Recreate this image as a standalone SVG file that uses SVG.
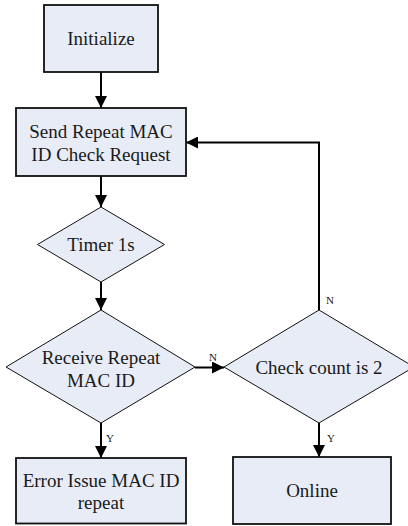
<svg xmlns="http://www.w3.org/2000/svg" width="408" height="526" viewBox="0 0 408 526">
<style>
.box{fill:#e7ecf7;stroke:#111;stroke-width:1.8}
.dia{fill:#e7ecf7;stroke:#111;stroke-width:1}
.t{font-family:"Liberation Serif","Times New Roman",serif;font-size:19px;fill:#1a1a1a;text-anchor:middle}
.lbl{font-family:"Liberation Serif","Times New Roman",serif;font-size:11px;fill:#1a1a1a}
.con{fill:none;stroke:#000;stroke-width:2}
</style>
<defs>
<marker id="ah" viewBox="0 0 12 12" refX="12" refY="6" markerWidth="12" markerHeight="12" markerUnits="userSpaceOnUse" orient="auto">
<path d="M0,0 L12,6 L0,12 Z" fill="#000"/>
</marker>
</defs>
<rect width="408" height="526" fill="#fff"/>
<g id="connectors">
<line class="con" x1="101" y1="72" x2="101" y2="108" marker-end="url(#ah)"/>
<line class="con" x1="101" y1="176" x2="101" y2="207" marker-end="url(#ah)"/>
<line class="con" x1="101" y1="282" x2="101" y2="310" marker-end="url(#ah)"/>
<line class="con" x1="195" y1="367.5" x2="224" y2="367.5" marker-end="url(#ah)"/>
<line class="con" x1="101" y1="423" x2="101" y2="458" marker-end="url(#ah)"/>
<line class="con" x1="319" y1="423" x2="319" y2="457" marker-end="url(#ah)"/>
<polyline class="con" points="319,310 319,142.5 186,142.5" marker-end="url(#ah)"/>
<text class="lbl" x="209" y="361">N</text>
<text class="lbl" x="326" y="304">N</text>
<text class="lbl" x="106" y="442">Y</text>
<text class="lbl" x="327" y="442">Y</text>
</g>
<g id="initialize">
<rect class="box" x="44" y="5" width="114" height="67"/>
<text class="t" x="101" y="45">Initialize</text>
</g>
<g id="send">
<rect class="box" x="16" y="108" width="170" height="68"/>
<text class="t" x="101" y="137.5">Send Repeat MAC</text>
<text class="t" x="101" y="161">ID Check Request</text>
</g>
<g id="timer">
<polygon class="dia" points="101,207 164.5,244.5 101,282 37.5,244.5"/>
<text class="t" x="101" y="251">Timer 1s</text>
</g>
<g id="receive">
<polygon class="dia" points="101,310 195,367 101,423 6,367"/>
<text class="t" x="101" y="363.5">Receive Repeat</text>
<text class="t" x="101" y="387">MAC ID</text>
</g>
<g id="check">
<polygon class="dia" points="319,310 414,367 319,423 224,367"/>
<text class="t" x="319" y="374">Check count is 2</text>
</g>
<g id="error">
<rect class="box" x="16" y="458" width="170" height="65.5"/>
<text class="t" x="101" y="487">Error Issue MAC ID</text>
<text class="t" x="101" y="509">repeat</text>
</g>
<g id="online">
<rect class="box" x="233" y="457" width="158" height="67"/>
<text class="t" x="312" y="497">Online</text>
</g>
</svg>
